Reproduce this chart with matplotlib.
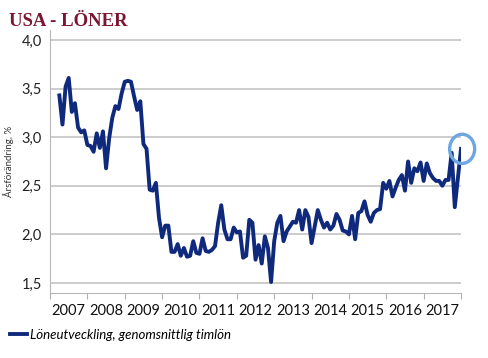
import numpy as np
import pandas as pd
import matplotlib
matplotlib.use("Agg")
import matplotlib.pyplot as plt
from matplotlib.patches import Ellipse

# monthly YoY wage growth, April 2007 - January 2018
start_month = "2007-04"
wages = [
    3.43, 3.13, 3.52, 3.61, 3.26, 3.35, 3.10, 3.05, 3.07, 2.92,
    2.91, 2.85, 3.04, 2.89, 3.06, 2.68, 2.99, 3.20, 3.32, 3.29,
    3.45, 3.57, 3.58, 3.57, 3.42, 3.28, 3.37, 2.93, 2.88, 2.46,
    2.45, 2.53, 2.17, 1.97, 2.09, 2.09, 1.82, 1.82, 1.90, 1.78,
    1.86, 1.77, 1.78, 1.93, 1.81, 1.80, 1.96, 1.83, 1.82, 1.84,
    1.88, 2.12, 2.30, 2.05, 1.95, 1.95, 2.07, 2.02, 2.03, 1.76,
    1.78, 2.15, 2.12, 1.74, 1.89, 1.70, 1.98, 1.86, 1.51, 1.93,
    2.12, 2.19, 1.93, 2.03, 2.08, 2.13, 2.12, 2.25, 2.05, 2.25,
    2.18, 1.91, 2.08, 2.25, 2.15, 2.07, 2.12, 2.05, 2.09, 2.21,
    2.15, 2.04, 2.03, 2.00, 2.19, 1.95, 2.22, 2.24, 2.34, 2.20,
    2.13, 2.22, 2.25, 2.26, 2.53, 2.47, 2.55, 2.39, 2.48, 2.56,
    2.61, 2.45, 2.75, 2.53, 2.68, 2.65, 2.74, 2.55, 2.73, 2.63,
    2.58, 2.55, 2.55, 2.50, 2.56, 2.56, 2.84, 2.28, 2.58, 2.88,
]
years = list(range(2007, 2018))
yticks = [1.5, 2.0, 2.5, 3.0, 3.5, 4.0]

title = "USA - LÖNER"
ylabel = "Årsförändring, %"
series_name = "Löneutveckling, genomsnittlig timlön"

dates = pd.date_range(start_month, periods=len(wages), freq="MS")
x = dates.year + (dates.month - 1) / 12.0

navy = "#0f2a7d"
grey = "#c4c4c4"

plt.rcParams["font.family"] = ["Lato", "DejaVu Sans"]

fig = plt.figure(figsize=(4.88, 3.58), dpi=100)
ax = fig.add_axes([0.1025, 0.1824, 0.8422, 0.733])

ax.plot(x, wages, color=navy, lw=2.8, solid_joinstyle="round", label=series_name)

# highlight latest value
ax.add_patch(Ellipse((x[-1] + 0.03, wages[-1]), 0.67, 0.30, fill=False,
                     edgecolor="#6ea6e0", lw=2.4, clip_on=False, zorder=5))

ax.set_xlim(2007, 2018)
ax.set_ylim(1.4, 4.1)
ax.set_yticks(yticks)
ax.set_yticklabels([f"{v:.1f}".replace(".", ",") for v in yticks])
ax.yaxis.grid(True, color=grey, lw=1.2)
ax.set_axisbelow(True)

ax.set_xticks(years + [2018])
ax.set_xticklabels([])
ax.set_xticks([y + 0.5 for y in years], minor=True)
ax.set_xticklabels([str(y) for y in years], minor=True)
ax.tick_params(axis="x", which="major", length=4, color="#b0b0b0")
ax.tick_params(axis="x", which="minor", length=0, labelsize=10.5,
               labelcolor="#111111", pad=8)
ax.tick_params(axis="y", length=0, labelsize=10.5, labelcolor="#222222", pad=6)

for s in ["top", "right"]:
    ax.spines[s].set_visible(False)
for s in ["left", "bottom"]:
    ax.spines[s].set_color("#b8b8b8")

ax.set_ylabel(ylabel, fontsize=7, color="#333333")
ax.yaxis.set_label_coords(-0.088, 0.5)

fig.text(0.018, 0.927, title, family="Liberation Serif", fontweight="bold",
         fontsize=13.5, color="#7a1532")

fig.legend(loc="center left", bbox_to_anchor=(0.02, 0.064), frameon=False,
           handlelength=1.3, handletextpad=0.2, borderaxespad=0, borderpad=0,
           prop={"style": "italic", "size": 9.5})

fig.savefig("out.png", dpi=100)
